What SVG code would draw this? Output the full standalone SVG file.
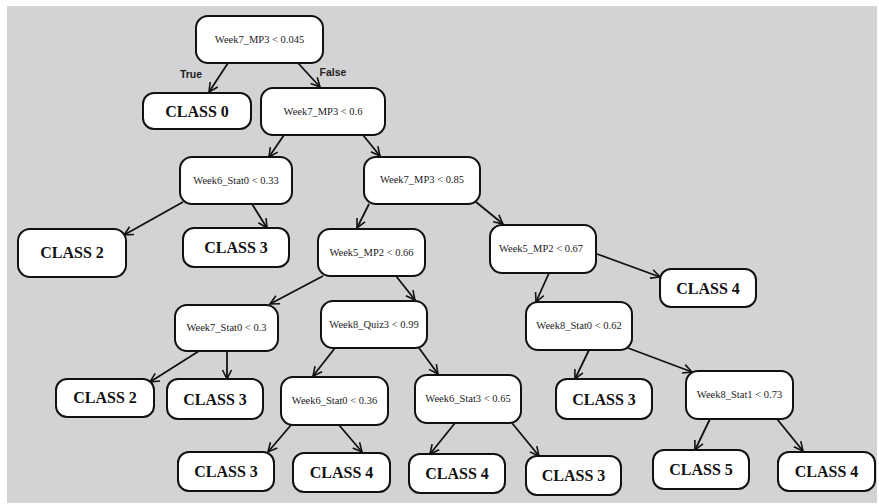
<svg xmlns="http://www.w3.org/2000/svg" width="879" height="504" viewBox="0 0 879 504">
<defs>
<marker id="arr" markerWidth="12" markerHeight="12" refX="10" refY="5" orient="auto" markerUnits="userSpaceOnUse" viewBox="0 0 12 10">
<path d="M1,0.5 L10,5 L1,9.5" fill="none" stroke="#111" stroke-width="1.6"/>
</marker>
<style>
.node rect{fill:#fff;stroke:#111;stroke-width:2}
.cond{font-family:"Liberation Serif","Times New Roman",serif;font-size:10.5px;fill:#222;text-anchor:middle}
.cls{font-family:"Liberation Serif","Times New Roman",serif;font-size:16px;font-weight:bold;fill:#111;text-anchor:middle}
.lbl{font-family:"Liberation Sans",Arial,sans-serif;font-size:10.5px;font-weight:bold;fill:#222;text-anchor:middle}
#edges line{stroke:#111;stroke-width:1.8;marker-end:url(#arr)}
</style>
</defs>
<rect x="0" y="0" width="879" height="504" fill="#fff"/>
<rect x="7" y="6" width="870" height="497" fill="#d3d3d5"/>

<g id="edges">
<line x1="228" y1="63" x2="209" y2="92"/>
<line x1="298" y1="63" x2="320" y2="87"/>
<line x1="284" y1="135" x2="269" y2="157"/>
<line x1="363" y1="135" x2="380" y2="156"/>
<line x1="183" y1="202" x2="124" y2="235"/>
<line x1="252" y1="204" x2="267" y2="228"/>
<line x1="369" y1="204" x2="357" y2="228"/>
<line x1="476" y1="202" x2="503" y2="224"/>
<line x1="323" y1="276" x2="270" y2="304"/>
<line x1="396" y1="276" x2="415" y2="300"/>
<line x1="597" y1="254" x2="660" y2="277"/>
<line x1="549" y1="273" x2="536" y2="302"/>
<line x1="199" y1="351" x2="150" y2="382"/>
<line x1="227" y1="351" x2="227" y2="379"/>
<line x1="335" y1="348" x2="313" y2="376"/>
<line x1="419" y1="348" x2="438" y2="374"/>
<line x1="291" y1="425" x2="268" y2="452"/>
<line x1="339" y1="425" x2="362" y2="452"/>
<line x1="455" y1="423" x2="430" y2="454"/>
<line x1="512" y1="423" x2="539" y2="456"/>
<line x1="589" y1="350" x2="575" y2="379"/>
<line x1="628" y1="348" x2="692" y2="372"/>
<line x1="710" y1="419" x2="695" y2="450"/>
<line x1="777" y1="419" x2="803" y2="451"/>
</g>
<text class="lbl" x="191" y="78">True</text>
<text class="lbl" x="333" y="76">False</text>

<g id="n0" class="node"><rect x="196" y="16" width="127" height="47" rx="12"/><text class="cond" x="259.5" y="43">Week7_MP3 &lt; 0.045</text></g>
<g id="c0" class="node"><rect x="143" y="93" width="108" height="36" rx="11"/><text class="cls" x="197" y="117">CLASS 0</text></g>
<g id="n1" class="node"><rect x="261" y="88" width="124" height="47" rx="12"/><text class="cond" x="323" y="115">Week7_MP3 &lt; 0.6</text></g>
<g id="n2" class="node"><rect x="180" y="157" width="112" height="47" rx="12"/><text class="cond" x="236" y="184">Week6_Stat0 &lt; 0.33</text></g>
<g id="n3" class="node"><rect x="364" y="157" width="116" height="47" rx="12"/><text class="cond" x="422" y="183">Week7_MP3 &lt; 0.85</text></g>
<g id="c2a" class="node"><rect x="18" y="229" width="108" height="48" rx="12"/><text class="cls" x="72" y="258">CLASS 2</text></g>
<g id="c3a" class="node"><rect x="183" y="228" width="106" height="39" rx="11"/><text class="cls" x="236" y="253">CLASS 3</text></g>
<g id="n4" class="node"><rect x="318" y="229" width="107" height="47" rx="12"/><text class="cond" x="371.5" y="256">Week5_MP2 &lt; 0.66</text></g>
<g id="n5" class="node"><rect x="490" y="225" width="106" height="48" rx="12"/><text class="cond" x="541" y="252">Week5_MP2 &lt; 0.67</text></g>
<g id="c4a" class="node"><rect x="660" y="269" width="96" height="38" rx="11"/><text class="cls" x="708" y="294">CLASS 4</text></g>
<g id="n6" class="node"><rect x="175" y="305" width="103" height="46" rx="12"/><text class="cond" x="226.5" y="331">Week7_Stat0 &lt; 0.3</text></g>
<g id="n7" class="node"><rect x="321" y="301" width="106" height="47" rx="12"/><text class="cond" x="374" y="328">Week8_Quiz3 &lt; 0.99</text></g>
<g id="n8" class="node"><rect x="526" y="302" width="106" height="48" rx="12"/><text class="cond" x="579" y="329">Week8_Stat0 &lt; 0.62</text></g>
<g id="c2b" class="node"><rect x="56" y="379" width="98" height="38" rx="11"/><text class="cls" x="105" y="403">CLASS 2</text></g>
<g id="c3b" class="node"><rect x="167" y="379" width="96" height="40" rx="11"/><text class="cls" x="215" y="405">CLASS 3</text></g>
<g id="n9" class="node"><rect x="281" y="377" width="107" height="48" rx="12"/><text class="cond" x="334.5" y="404">Week6_Stat0 &lt; 0.36</text></g>
<g id="n10" class="node"><rect x="415" y="375" width="106" height="48" rx="12"/><text class="cond" x="468" y="402">Week6_Stat3 &lt; 0.65</text></g>
<g id="c3c" class="node"><rect x="556" y="379" width="96" height="40" rx="11"/><text class="cls" x="604" y="405">CLASS 3</text></g>
<g id="n11" class="node"><rect x="686" y="371" width="107" height="48" rx="12"/><text class="cond" x="739.5" y="398">Week8_Stat1 &lt; 0.73</text></g>
<g id="c3d" class="node"><rect x="178" y="452" width="96" height="39" rx="11"/><text class="cls" x="226" y="477">CLASS 3</text></g>
<g id="c4b" class="node"><rect x="293" y="453" width="97" height="39" rx="11"/><text class="cls" x="341.5" y="478">CLASS 4</text></g>
<g id="c4c" class="node"><rect x="409" y="454" width="96" height="39" rx="11"/><text class="cls" x="457" y="479">CLASS 4</text></g>
<g id="c3e" class="node"><rect x="526" y="456" width="95" height="39" rx="11"/><text class="cls" x="573.5" y="481">CLASS 3</text></g>
<g id="c5" class="node"><rect x="653" y="450" width="96" height="39" rx="11"/><text class="cls" x="701" y="475">CLASS 5</text></g>
<g id="c4d" class="node"><rect x="778" y="452" width="97" height="39" rx="11"/><text class="cls" x="826.5" y="477">CLASS 4</text></g>
</svg>
